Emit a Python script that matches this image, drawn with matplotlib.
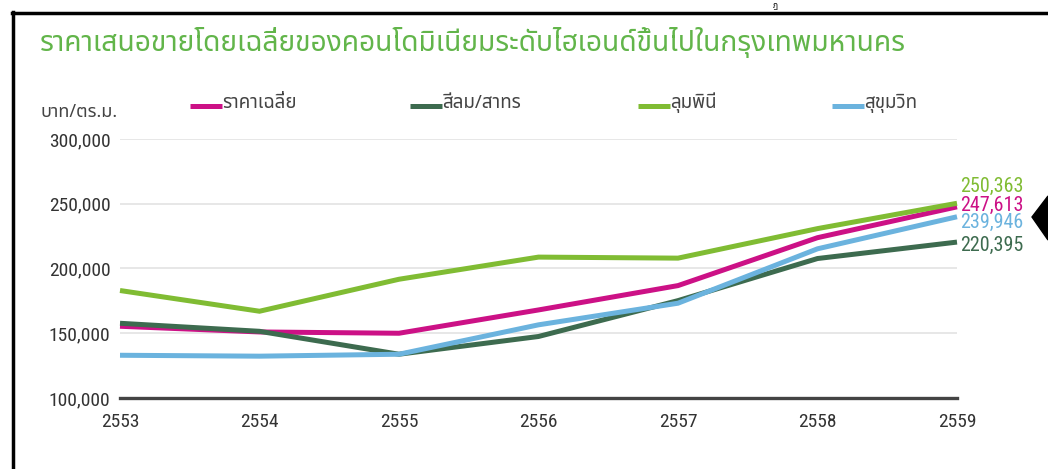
import matplotlib
matplotlib.use("Agg")
import matplotlib.pyplot as plt
from matplotlib import font_manager
from matplotlib.lines import Line2D
from matplotlib.patches import Polygon
from matplotlib.ticker import FuncFormatter

# ---------------- data ----------------
years = [2553, 2554, 2555, 2556, 2557, 2558, 2559]
avg_price = [155400, 151000, 150000, 168000, 186800, 223800, 247613]
silom_sathorn = [157700, 151500, 133800, 147500, 175200, 207700, 220395]
lumpini = [183000, 167000, 191700, 208800, 208000, 230800, 250363]
sukhumvit = [133000, 132300, 133800, 156500, 173200, 215200, 239946]
series_names = ["ราคาเฉลี่ย", "สีลม/สาทร", "ลุมพินี", "สุขุมวิท"]
end_labels = ["247,613", "220,395", "250,363", "239,946"]
title_text = "ราคาเสนอขายโดยเฉลี่ยของคอนโดมิเนียมระดับไฮเอนด์ขึ้นไปในกรุงเทพมหานคร"
unit_text = "บาท/ตร.ม."
y_ticks = [100000, 150000, 200000, 250000, 300000]

colors = ["#cc1186", "#3d6b4f", "#80bc33", "#6bb3de"]

# ---------------- fonts ----------------
def find_family(codepoint, prefer=()):
    try:
        from fontTools.ttLib import TTFont
    except Exception:
        return None
    found = []
    for f in font_manager.fontManager.ttflist:
        try:
            tt = TTFont(f.fname, fontNumber=0, lazy=True)
            cmap = tt.getBestCmap()
            if cmap and codepoint in cmap:
                found.append(f.name)
        except Exception:
            pass
    for p in prefer:
        if p in found:
            return p
    return found[0] if found else None

thai_family = find_family(0x0E01, prefer=("Noto Sans Thai", "Noto Sans Thai Looped", "Noto Sans"))
names = {f.name for f in font_manager.fontManager.ttflist}
narrow = None
for cand in ["Liberation Sans Narrow", "DejaVu Sans Condensed", "Roboto Condensed", "Open Sans Condensed", "Liberation Sans"]:
    if cand in names:
        narrow = cand
        break
if narrow is None:
    narrow = "DejaVu Sans"
thai_fams = [thai_family, narrow, "DejaVu Sans"] if thai_family else [narrow, "DejaVu Sans"]

plt.rcParams["font.family"] = [narrow, "DejaVu Sans"]

W, H = 1048, 469
fig = plt.figure(figsize=(W / 100, H / 100), dpi=100)
fig.patch.set_facecolor("white")

def fx(px):
    return px / W

def fy(py):
    return 1 - py / H

ax = fig.add_axes([fx(120), fy(398), fx(957) - fx(120), fy(139) - fy(398)])
ax.set_xlim(2553, 2559)
ax.set_ylim(100000, 300000)

for yv in y_ticks[1:]:
    ax.axhline(yv, color="#e3e3e3", lw=1.2, zorder=1)
ax.axhline(100000, color="#444444", lw=2.4, zorder=2, clip_on=False)

all_series = [avg_price, silom_sathorn, lumpini, sukhumvit]
order = [2, 3, 0, 1]
for i in order:
    ax.plot(years, all_series[i], color=colors[i], lw=3.6, solid_capstyle="butt",
            solid_joinstyle="miter", zorder=3 + i, clip_on=False)

for s in ["top", "right", "left", "bottom"]:
    ax.spines[s].set_visible(False)
ax.set_xticks(years)
ax.set_xticklabels([str(y) for y in years])
ax.set_yticks(y_ticks)
ax.yaxis.set_major_formatter(FuncFormatter(lambda v, p: f"{int(v):,}"))
ax.tick_params(axis="both", length=0, labelsize=14, colors="#333333")
ax.tick_params(axis="y", pad=7)
ax.tick_params(axis="x", pad=11)

# end-value labels
label_y = {2: 186, 0: 205, 3: 222, 1: 245}
for i, py in label_y.items():
    fig.text(fx(960), fy(py), end_labels[i], color=colors[i], fontsize=14.5,
             ha="left", va="center")

# title
fig.text(fx(40), fy(42), title_text, color="#62b54a", fontsize=20.3,
         ha="left", va="center", family=thai_fams)

# unit label
fig.text(fx(40), fy(112), unit_text, color="#444444", fontsize=13,
         ha="left", va="center", family=thai_fams)

# legend
legend_x = [190, 410, 638, 832]
for i, lx in enumerate(legend_x):
    fig.add_artist(Line2D([fx(lx), fx(lx + 32)], [fy(106), fy(106)], color=colors[i],
                          lw=3.6, transform=fig.transFigure, solid_capstyle="butt"))
    fig.text(fx(lx + 32), fy(103), series_names[i], color="#444444", fontsize=13.5,
             ha="left", va="center", family=thai_fams)

# frame lines
fig.add_artist(Line2D([fx(12), fx(1048)], [fy(13), fy(13)], color="black", lw=2.5,
                      transform=fig.transFigure))
fig.add_artist(Line2D([fx(13), fx(13)], [fy(12), fy(469)], color="black", lw=2.5,
                      transform=fig.transFigure))

# arrow on right edge
fig.add_artist(Polygon([[fx(1032), fy(217)], [fx(1048), fy(196)], [fx(1048), fy(240)]],
                       closed=True, color="black", transform=fig.transFigure))

# small glyph at top
fig.text(fx(775), fy(1), "ฎ", color="black", fontsize=6, ha="center", va="top",
         family=thai_fams)

fig.savefig("out.png", dpi=100, facecolor="white")
